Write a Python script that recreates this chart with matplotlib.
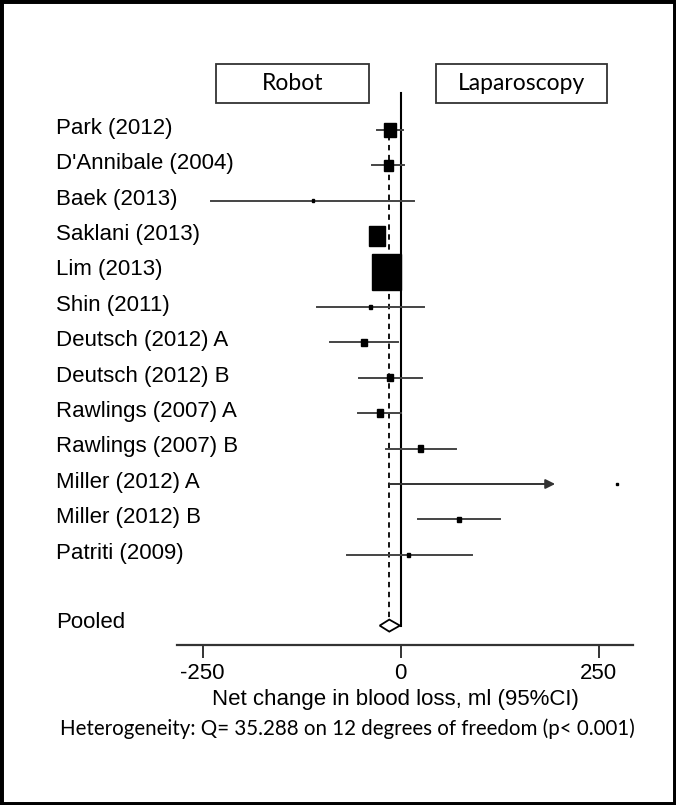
import numpy as np
import matplotlib.pyplot as plt
from matplotlib.patches import Rectangle, Polygon
from matplotlib.transforms import blended_transform_factory

plt.rcParams["axes.unicode_minus"] = False

# study data (ml, robot minus laparoscopy)
studies = ["Park (2012)", "D'Annibale (2004)", "Baek (2013)", "Saklani (2013)",
           "Lim (2013)", "Shin (2011)", "Deutsch (2012) A", "Deutsch (2012) B",
           "Rawlings (2007) A", "Rawlings (2007) B", "Miller (2012) A",
           "Miller (2012) B", "Patriti (2009)"]
est = [-13.5, -15.6, -111, -30, -17.7, -37.9, -46.3, -13.5, -26.1, 25.2, 272.7, 73.6, 10.1]
ci_lo = [-29.5, -35.8, -240, -37, -32, -105.7, -89.6, -52.3, -53.5, -18.6, -13.5, 22.2, -68.2]
ci_hi = [3.3, 4.5, 17, -23, -4, 29.8, -3, 26.5, 0, 69.4, 195, 125.4, 89.6]
clipped = [False] * 10 + [True, False, False]
weight = [8.3, 5.9, 0.4, 17.4, 56, 0.8, 2.4, 2.1, 3.1, 1.7, 0.3, 1.1, 0.6]

pooled_est = -14.4
pooled_lo = -26.5
pooled_hi = -0.9

ticks = [-250, 0, 250]
xlabel = "Net change in blood loss, ml (95%CI)"
het_text = "Heterogeneity: Q= 35.288 on 12 degrees of freedom (p< 0.001)"

W, H = 676, 805
fig = plt.figure(figsize=(W / 100, H / 100), dpi=100)

def fx(px):
    return px / W

def fy(py):
    return 1 - py / H

ax = fig.add_axes([fx(177), fy(645), fx(633) - fx(177), fy(60) - fy(645)])
ax.set_xlim(-282.4, 293.3)
row_px = 35.4
ax.set_ylim((645 - 130) / row_px, (60 - 130) / row_px)

for s in ["top", "right", "left"]:
    ax.spines[s].set_visible(False)
ax.spines["bottom"].set_linewidth(1.6)
ax.spines["bottom"].set_color("#333333")
ax.set_yticks([])
ax.set_xticks(ticks)
ax.set_xticklabels([str(t) for t in ticks])
ax.tick_params(axis="x", length=9, width=1.4, color="#333333", pad=4,
               labelsize=16, labelfontfamily="Liberation Sans")
ax.set_xlabel(xlabel, fontsize=16, family="Liberation Sans", labelpad=2)
ax.xaxis.set_label_coords((395 - 177) / 456, -0.075)

sx = 0.792   # px per data unit
n = len(studies)
pooled_row = n + 1
lab_tr = blended_transform_factory(fig.transFigure, ax.transData)

# reference line at zero and pooled estimate
ax.plot([0, 0], [(93 - 130) / row_px, pooled_row], color="black", lw=1.5)
ax.plot([pooled_est, pooled_est], [0.15, pooled_row - 0.17], color="black",
        lw=1.3, dashes=(3, 2.5))

for i in range(n):
    if clipped[i]:
        ax.annotate("", xy=(ci_hi[i], i), xytext=(ci_lo[i], i),
                    arrowprops=dict(arrowstyle="-|>", color="#333333", lw=1.4,
                                    mutation_scale=14, shrinkA=0, shrinkB=0))
    else:
        ax.plot([ci_lo[i], ci_hi[i]], [i, i], color="#444444", lw=1.4)
    side = 3.835 * np.sqrt(weight[i])
    w = side / sx
    h = side * 1.25 / row_px
    ax.add_patch(Rectangle((est[i] - w / 2, i - h / 2), w, h, color="black", zorder=3))
    ax.text(fx(56), i - 0.05, studies[i], transform=lab_tr,
            fontsize=16, family="Liberation Sans", va="center", ha="left")

# pooled diamond
dh = 0.17
ax.add_patch(Polygon([[pooled_lo, pooled_row], [pooled_est, pooled_row - dh],
                      [pooled_hi, pooled_row], [pooled_est, pooled_row + dh]],
                     closed=True, facecolor="white", edgecolor="black", lw=1.3, zorder=3))
ax.text(fx(56), pooled_row - 0.08, "Pooled", transform=lab_tr,
        fontsize=16, family="Liberation Sans", va="center", ha="left")

# header boxes
for (x0, x1, label) in [(216, 369, "Robot"), (436, 607, "Laparoscopy")]:
    fig.patches.append(Rectangle((fx(x0), fy(103)), fx(x1) - fx(x0), fy(64) - fy(103),
                                 transform=fig.transFigure, fill=False,
                                 edgecolor="#333333", lw=1.3))
    fig.text(fx((x0 + x1) / 2), fy(84), label, ha="center", va="center",
             fontsize=16.5, family="Lato")

fig.text(fx(347), fy(729), het_text, ha="center", va="center", fontsize=14.8, family="Lato")

# outer frame
fig.patches.append(Rectangle((0, 0), 1, 1, transform=fig.transFigure, fill=False,
                             edgecolor="black", lw=5))

fig.savefig("out.png", dpi=100)
